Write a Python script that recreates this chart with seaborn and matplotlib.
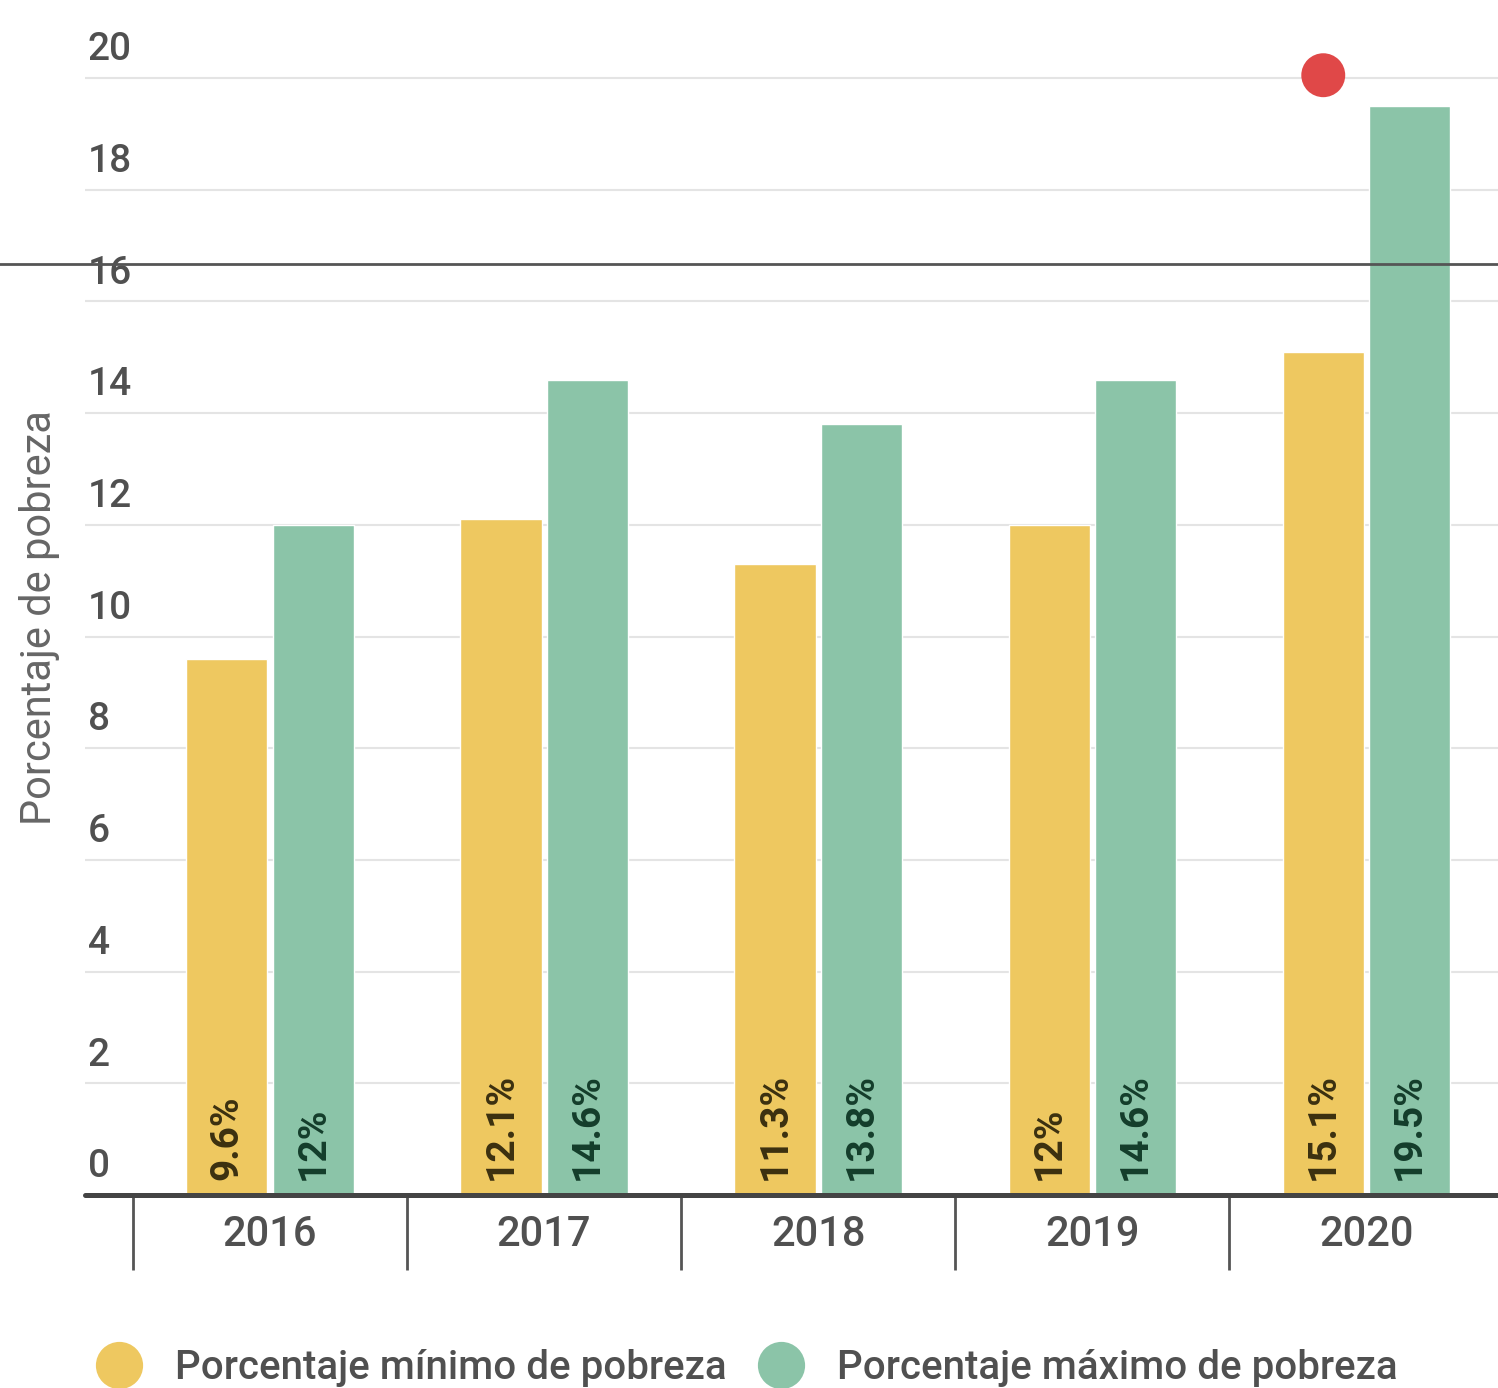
import numpy as np
import pandas as pd
import matplotlib.pyplot as plt
import seaborn as sns
from matplotlib.lines import Line2D
from matplotlib import transforms

# data
anios = ['2016', '2017', '2018', '2019', '2020']
minimo = [9.6, 12.1, 11.3, 12.0, 15.1]
maximo = [12.0, 14.6, 13.8, 14.6, 19.5]
series = ['Porcentaje mínimo de pobreza', 'Porcentaje máximo de pobreza']
y_ticks = [0, 2, 4, 6, 8, 10, 12, 14, 16, 18, 20]
punto_rojo = 20.05      # red marker above 2020
linea_ref = 16.67       # dark horizontal line

colores = ['#EEC860', '#8BC4A8']
color_txt = ['#3b3010', '#143d2b']

df = pd.DataFrame({
    'anio': anios * 2,
    'valor': minimo + maximo,
    'serie': [series[0]] * len(anios) + [series[1]] * len(anios),
})

sns.set_style('white')
plt.rcParams['font.family'] = ['Roboto', 'DejaVu Sans']

fig = plt.figure(figsize=(14.98, 13.88), dpi=100)
ax = fig.add_axes([85 / 1498, 1 - 1195 / 1388, 1 - 85 / 1498, (1195 - 44.5) / 1388])

sns.barplot(data=df, x='anio', y='valor', hue='serie', palette=colores,
            width=0.63, gap=0.06, ax=ax, legend=False, saturation=1)

ax.set_ylim(0, 20.6)
ax.set_xlim(-0.675, 4.48)

# gridlines
for t in y_ticks[1:]:
    ax.axhline(t, color='#e4e4e4', lw=1.5, zorder=0)
ax.axhline(0, color='#444444', lw=3.6, zorder=3, clip_on=False)

# y tick labels sit above their gridline
ax.set_yticks([])
off = transforms.offset_copy(ax.get_yaxis_transform(), fig=fig, x=2, y=7, units='points')
for t in y_ticks:
    ax.text(0, t, str(t), transform=off, ha='left', va='bottom',
            fontsize=28, color='#505050', fontweight='medium')

ax.set_ylabel('Porcentaje de pobreza', fontsize=30, color='#666666', labelpad=0)
ax.yaxis.set_label_coords(-0.018, 0.502)

# x axis: category labels and separators
ax.set_xlabel('')
ax.tick_params(axis='x', which='major', length=0, pad=14, labelsize=30, labelcolor='#505050')
for lbl in ax.get_xticklabels():
    lbl.set_fontweight('medium')
ax.set_xticks(np.arange(len(anios)) - 0.5, minor=True)
ax.tick_params(axis='x', which='minor', bottom=True, length=54, width=2,
               color='#555555', direction='out')

for s in ax.spines.values():
    s.set_visible(False)

# value labels inside bars, rotated
n = len(anios)
for i, p in enumerate(ax.patches[:2 * n]):
    k = i // n
    v = (minimo + maximo)[i]
    ax.text(p.get_x() + p.get_width() / 2, 0.27, f'{v:g}%', rotation=90,
            ha='center', va='bottom', fontsize=28, fontweight='bold', color=color_txt[k])

# red marker over the 2020 minimum bar
p20 = ax.patches[n - 1]
ax.scatter([p20.get_x() + p20.get_width() / 2], [punto_rojo], s=1000,
           color='#E04848', zorder=5, clip_on=False, edgecolor='none')

ax.axhline(linea_ref, xmin=-0.07, xmax=1, color='#555555', lw=2, zorder=4, clip_on=False)

handles = [Line2D([], [], marker='o', ls='', markersize=34, markerfacecolor=c,
                  markeredgecolor='none') for c in colores]
fig.legend(handles, series, loc='center left', bbox_to_anchor=(0.063, 0.0144), ncol=2,
           frameon=False, fontsize=29, labelcolor='#505050', handlelength=1.2,
           handletextpad=0.8, columnspacing=0.75, borderaxespad=0, borderpad=0,
           prop={'weight': 'medium', 'size': 29})

fig.savefig('out.png', dpi=100)
